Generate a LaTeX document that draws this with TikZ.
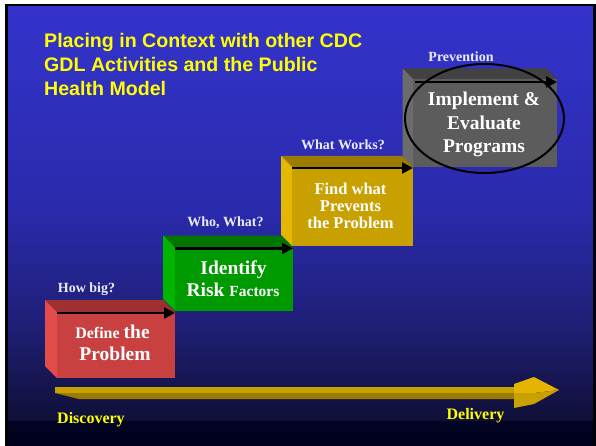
\documentclass[tikz,border=0pt]{standalone}
\usepackage{fontspec}
\setmainfont{Liberation Serif}
\newfontfamily\titlefont{Liberation Sans}
\usetikzlibrary{arrows.meta,calc,shapes.geometric}
\definecolor{bgA}{RGB}{51,51,204}
\definecolor{bgB}{RGB}{42,42,172}
\definecolor{bgC}{RGB}{30,30,115}
\definecolor{bgD}{RGB}{15,15,55}
\definecolor{bgE}{RGB}{3,3,36}
\definecolor{bgF}{RGB}{0,0,28}
\definecolor{redF}{RGB}{200,64,64}
\definecolor{redT}{RGB}{158,48,48}
\definecolor{redS}{RGB}{226,76,76}
\definecolor{greenF}{RGB}{0,153,0}
\definecolor{greenT}{RGB}{0,118,0}
\definecolor{greenS}{RGB}{0,180,0}
\definecolor{goldF}{RGB}{200,160,0}
\definecolor{goldT}{RGB}{156,124,0}
\definecolor{goldS}{RGB}{228,184,0}
\definecolor{grayF}{RGB}{92,92,92}
\definecolor{grayT}{RGB}{66,66,66}
\definecolor{grayS}{RGB}{108,108,108}
\definecolor{shaftT}{RGB}{200,160,0}
\definecolor{shaftB}{RGB}{156,124,0}
\definecolor{headT}{RGB}{228,180,0}
\definecolor{headB}{RGB}{200,160,0}
\definecolor{labc}{RGB}{236,236,255}
\definecolor{ttl}{RGB}{255,255,0}
% #1 x1, #2 y1, #3 x2, #4 y2, #5 depth, #6 colour prefix, #7 name
\newcommand\slabbox[7]{%
  \fill[#6F] (#1,#2) rectangle (#3,#4);
  \fill[#6T] (#1,#2) -- ++(-#5,-#5) -- ({#3-#5},{#2-#5}) -- (#3,#2) -- cycle;
  \fill[#6S] (#1,#2) -- ++(-#5,-#5) -- ({#1-#5},{#4-#5}) -- (#1,#4) -- cycle;
  \coordinate (#7-nw) at (#1,{#2+1});
  \coordinate (#7-ne) at (#3,{#2+1});
}
\tikzset{
  toparrow/.style={line width=2.6pt,-{Triangle[length=11pt,width=11pt]}},
  boxtxt/.style={text=white,font=\bfseries,inner sep=0pt,anchor=base},
  steplabel/.style={text=labc,font=\bfseries\fontsize{14}{14}\selectfont,inner sep=0pt,anchor=base},
  titletxt/.style={text=ttl,font=\titlefont\bfseries\fontsize{19.6}{22}\selectfont,inner sep=0pt,anchor=base west},
  axislabel/.style={text=ttl,font=\bfseries\fontsize{16}{16}\selectfont,inner sep=0pt,anchor=base},
}
\newcommand\sz[1]{\fontsize{#1}{#1}\selectfont}
\begin{document}
\begin{tikzpicture}[x=1pt,y=-1pt]
\useasboundingbox (0,0) rectangle (596,446);
\fill[white] (0,0) rectangle (596,446);
\fill[black] (5,4) rectangle (596,446);
% background gradient
\shade[top color=bgA,bottom color=bgB] (8,7) rectangle (593,210.5);
\shade[top color=bgB,bottom color=bgC] (8,210) rectangle (593,330.5);
\shade[top color=bgC,bottom color=bgD] (8,330) rectangle (593,421.5);
\shade[top color=bgE,bottom color=bgF] (8,421) rectangle (593,446);
% title
\node[titletxt] (t1) at (44,48) {Placing in Context with other CDC};
\node[titletxt] (t2) at (44,72) {GDL Activities and the Public};
\node[titletxt] (t3) at (44,96) {Health Model};
% boxes
\slabbox{413}{79}{557}{167}{10.5}{gray}{bG}
\slabbox{292}{167}{413}{246}{11}{gold}{bY}
\slabbox{175}{247.5}{293}{311}{12}{green}{bN}
\slabbox{57}{312}{175}{378}{12}{red}{bR}
% arrows on top edges
\draw[toparrow] (bG-nw) ++(2,2) -- ($(bG-ne)+(0,2)$);
\draw[toparrow] (bY-nw) -- (bY-ne);
\draw[toparrow] (bN-nw) -- (bN-ne);
\draw[toparrow] (bR-nw) -- (bR-ne);
% ellipse
\node[draw=black,line width=2pt,ellipse,minimum width=159pt,minimum height=109pt,inner sep=0pt] (ell) at (484.5,118.5) {};
% box texts
\node[boxtxt] (g1) at (484,106) {\sz{19.5}Implement \&};
\node[boxtxt] (g2) at (484,129.5) {\sz{19.5}Evaluate};
\node[boxtxt] (g3) at (484,152.5) {\sz{19.5}Programs};
\node[boxtxt] (y1) at (350.5,194.3) {\sz{16.5}Find what};
\node[boxtxt] (y2) at (350.5,211.7) {\sz{16.5}Prevents};
\node[boxtxt] (y3) at (350.5,229) {\sz{16.5}the Problem};
\node[boxtxt] (n1) at (233.5,274) {\sz{19.5}Identify};
\node[boxtxt] (n2) at (233,296.7) {\sz{19.5}Risk \sz{15.5}Factors};
\node[boxtxt] (r1) at (112.5,338) {\sz{16}Define \sz{19.5}the};
\node[boxtxt] (r2) at (115,360.7) {\sz{19.5}Problem};
% step labels
\node[steplabel] (l1) at (86.5,292) {How big?};
\node[steplabel] (l2) at (225.5,226.7) {Who, What?};
\node[steplabel] (l3) at (343,150) {What Works?};
\node[steplabel] (l4) at (461,61.7) {Prevention};
% big bottom arrow
\fill[shaftT] (55,387) rectangle (514.5,393);
\fill[shaftB] (55,393) -- (514.5,393) -- (514.5,399) -- (79,399) -- cycle;
\fill[headT] (514,384) -- (534,377) -- (559,390) -- (534,393) -- (514,393) -- cycle;
\fill[headB] (514,393) -- (534,393) -- (559,390) -- (534,404) -- (514,408) -- cycle;
\node[axislabel,anchor=base west] (disc) at (57,423) {Discovery};
\node[axislabel] (deli) at (475.5,419.5) {Delivery};
\end{tikzpicture}
\end{document}
